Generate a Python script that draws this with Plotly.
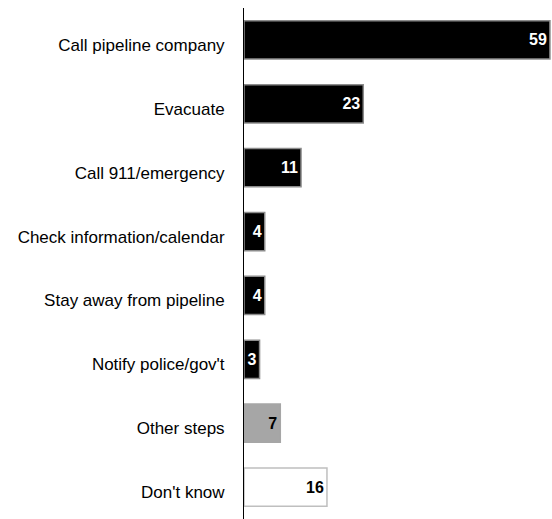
import plotly.graph_objects as go

# Survey responses: steps people would take
steps = [
    "Call pipeline company",
    "Evacuate",
    "Call 911/emergency",
    "Check information/calendar",
    "Stay away from pipeline",
    "Notify police/gov't",
    "Other steps",
    "Don't know",
]
percent = [59, 23, 11, 4, 4, 3, 7, 16]

bar_fill = ["#000000"] * 6 + ["#a6a6a6", "#ffffff"]
bar_edge = ["#8c8c8c"] * 6 + ["#a6a6a6", "#bfbfbf"]
label_color = ["#ffffff"] * 6 + ["#000000", "#000000"]

fig = go.Figure(
    go.Bar(
        y=steps,
        x=percent,
        orientation="h",
        marker=dict(color=bar_fill, line=dict(color=bar_edge, width=1.5)),
        text=[str(v) for v in percent],
        textposition="inside",
        insidetextanchor="end",
        textfont=dict(
            family="Arial, Liberation Sans, sans-serif",
            size=16,
            color=label_color,
            weight="bold",
        ),
        cliponaxis=False,
        hoverinfo="skip",
    )
)

fig.update_layout(
    width=552,
    height=519,
    margin=dict(l=244, r=1, t=8, b=0),
    paper_bgcolor="#ffffff",
    plot_bgcolor="#ffffff",
    bargap=0.4,
    showlegend=False,
    uniformtext=dict(minsize=16, mode="show"),
)

fig.update_xaxes(
    range=[0, 59.2],
    visible=False,
    showgrid=False,
    zeroline=False,
)

fig.update_yaxes(
    autorange="reversed",
    automargin=False,
    showline=True,
    linecolor="#000000",
    linewidth=1,
    showgrid=False,
    ticks="",
    ticklabelstandoff=15,
    ticklabelshift=-5,
    tickfont=dict(
        family="Arial, Liberation Sans, sans-serif",
        size=17,
        color="#000000",
    ),
)

fig.write_html("out.html")
